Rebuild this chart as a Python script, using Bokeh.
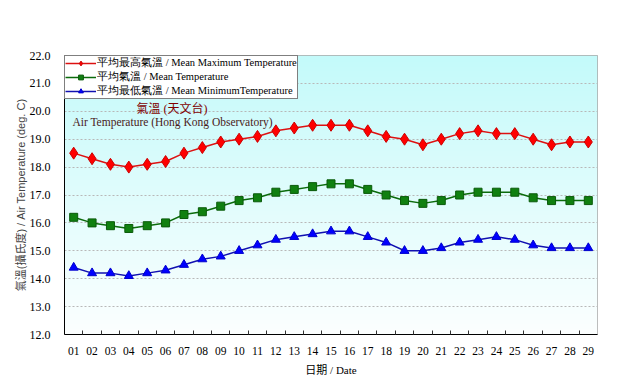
import numpy as np
from bokeh.plotting import figure
from bokeh.models import (Range1d, FixedTicker, Legend, LegendItem, Label,
                          CustomJSTickFormatter)
from bokeh.embed import file_html
from bokeh.resources import INLINE

days = ["01", "02", "03", "04", "05", "06", "07", "08", "09", "10",
        "11", "12", "13", "14", "15", "16", "17", "18", "19", "20",
        "21", "22", "23", "24", "25", "26", "27", "28", "29"]
mean_max = [18.5, 18.3, 18.1, 18.0, 18.1, 18.2, 18.5, 18.7, 18.9, 19.0,
            19.1, 19.3, 19.4, 19.5, 19.5, 19.5, 19.3, 19.1, 19.0, 18.8,
            19.0, 19.2, 19.3, 19.2, 19.2, 19.0, 18.8, 18.9, 18.9]
mean_temp = [16.2, 16.0, 15.9, 15.8, 15.9, 16.0, 16.3, 16.4, 16.6, 16.8,
             16.9, 17.1, 17.2, 17.3, 17.4, 17.4, 17.2, 17.0, 16.8, 16.7,
             16.8, 17.0, 17.1, 17.1, 17.1, 16.9, 16.8, 16.8, 16.8]
mean_min = [14.4, 14.2, 14.2, 14.1, 14.2, 14.3, 14.5, 14.7, 14.8, 15.0,
            15.2, 15.4, 15.5, 15.6, 15.7, 15.7, 15.5, 15.3, 15.0, 15.0,
            15.1, 15.3, 15.4, 15.5, 15.4, 15.2, 15.1, 15.1, 15.1]
y_ticks = [12, 13, 14, 15, 16, 17, 18, 19, 20, 21, 22]

n = len(days)
xs = [i + 0.5 for i in range(n)]
y_min, y_max = y_ticks[0], y_ticks[-1]

SERIF = "'Liberation Serif', 'Noto Sans CJK TC'"
SANS = "'Liberation Sans', 'Noto Sans CJK TC'"

p = figure(frame_width=533, frame_height=279,
           min_border_left=64, min_border_right=30,
           min_border_top=55, min_border_bottom=46,
           x_range=Range1d(0, n), y_range=Range1d(y_min, y_max),
           output_backend="svg", toolbar_location=None)
p.background_fill_color = "white"
p.border_fill_color = "white"
p.outline_line_color = "#a8a8a8"
p.outline_line_width = 1

# gradient background (cyan top -> white bottom)
rows = 200
img = np.zeros((rows, 1), dtype=np.uint32)
view = img.view(dtype=np.uint8).reshape((rows, 1, 4))
top = np.array([196, 250, 250])
bot = np.array([252, 255, 255])
for r in range(rows):
    t = r / (rows - 1)  # 0 at bottom, 1 at top
    c = bot + (top - bot) * t
    view[r, 0, 0] = int(c[0]); view[r, 0, 1] = int(c[1]); view[r, 0, 2] = int(c[2]); view[r, 0, 3] = 255
p.image_rgba(image=[img], x=0, y=y_min, dw=n, dh=y_max - y_min, level="image")

# axes
p.yaxis.ticker = FixedTicker(ticks=y_ticks)
p.yaxis.formatter = CustomJSTickFormatter(code="return tick.toFixed(1);")
p.yaxis.major_tick_line_color = None
p.yaxis.major_tick_out = 0
p.yaxis.major_tick_in = 0
p.yaxis.minor_tick_line_color = None
p.yaxis.minor_tick_out = 0
p.yaxis.major_label_standoff = 14
p.yaxis.major_label_text_font = SERIF
p.yaxis.major_label_text_font_size = "12px"
p.yaxis.major_label_text_color = "black"
p.yaxis.axis_line_color = "black"
p.yaxis.axis_label = "氣溫(攝氏度) / Air Temperature (deg. C)"
p.yaxis.axis_label_text_font = SANS
p.yaxis.axis_label_text_font_size = "11px"
p.yaxis.axis_label_text_font_style = "normal"
p.yaxis.axis_label_text_color = "#444444"
p.yaxis.axis_label_standoff = 0

p.xaxis.ticker = FixedTicker(ticks=xs, minor_ticks=list(range(1, n)))
p.xaxis.major_label_overrides = {x: d for x, d in zip(xs, days)}
p.xaxis.major_tick_line_color = None
p.xaxis.minor_tick_in = 4
p.xaxis.minor_tick_out = 0
p.xaxis.minor_tick_line_color = "#333333"
p.xaxis.major_label_standoff = 6
p.xaxis.major_label_text_font = SERIF
p.xaxis.major_label_text_font_size = "11.5px"
p.xaxis.major_label_text_color = "black"
p.xaxis.axis_line_color = "black"
p.xaxis.axis_label = "日期 / Date"
p.xaxis.axis_label_text_font = SERIF
p.xaxis.axis_label_text_font_size = "11px"
p.xaxis.axis_label_text_font_style = "normal"
p.xaxis.axis_label_text_color = "black"
p.xaxis.axis_label_standoff = 6

p.xgrid.grid_line_color = None
p.ygrid.ticker = FixedTicker(ticks=y_ticks[1:-1])
p.ygrid.grid_line_color = "#b8b8b8"
p.ygrid.grid_line_dash = "2 2"

# series
l1 = p.line(xs, mean_max, line_color="#dd1111", line_width=1.5)
s1 = p.scatter(xs, mean_max, marker="diamond", size=12, fill_color="#ff0000", line_color="#cc0000")
l2 = p.line(xs, mean_temp, line_color="#0b6b0b", line_width=1.5)
s2 = p.scatter(xs, mean_temp, marker="square", size=8, fill_color="#108010", line_color="#0a5a0a")
l3 = p.line(xs, mean_min, line_color="#1010b0", line_width=1.5)
s3 = p.scatter(xs, mean_min, marker="triangle", size=9, fill_color="#0000ff", line_color="#0000cc")

legend = Legend(items=[
    LegendItem(label="平均最高氣溫 / Mean Maximum Temperature", renderers=[l1, s1]),
    LegendItem(label="平均氣溫 / Mean Temperature", renderers=[l2, s2]),
    LegendItem(label="平均最低氣溫 / Mean MinimumTemperature", renderers=[l3, s3]),
], location="top_left")
legend.margin = 0
legend.padding = 0
legend.spacing = 0
legend.glyph_width = 31
legend.glyph_height = 12
legend.label_height = 12
legend.label_standoff = 1
legend.label_text_font = "Liberation Serif"
legend.label_text_font_size = "10.5px"
legend.label_text_line_height = 1.0
legend.label_text_color = "black"
legend.border_line_color = "black"
legend.border_line_width = 1
legend.background_fill_color = "white"
legend.background_fill_alpha = 1.0
p.add_layout(legend, "center")

p.add_layout(Label(x=5.85, y=20.08, text="氣溫 (天文台)", text_align="center",
                   text_baseline="middle", text_font=SERIF, text_font_size="12px",
                   text_color="#800000"))
p.add_layout(Label(x=0.43, y=19.61, text="Air Temperature (Hong Kong Observatory)",
                   text_align="left", text_baseline="middle", text_font=SERIF,
                   text_font_size="11.5px", text_color="#4a1a1a"))

open("out.html", "w").write(file_html(p, INLINE))
